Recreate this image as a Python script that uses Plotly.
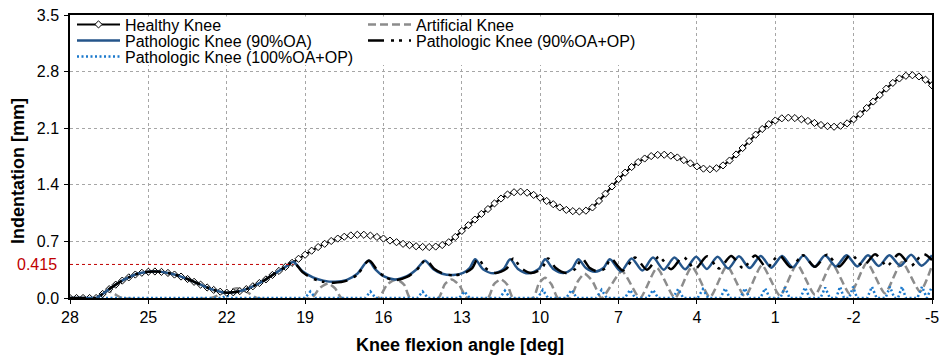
import plotly.graph_objects as go

FONT = "Arial, Liberation Sans, sans-serif"

# ---------------- data ----------------
x_ticks = [28, 25, 22, 19, 16, 13, 10, 7, 4, 1, -2, -5]
x_tick_text = ["28", "25", "22", "19", "16", "13", "10", "7", "4", "1", "-2", "-5"]
y_ticks = [0, 0.7, 1.4, 2.1, 2.8, 3.5]
y_tick_text = ["0.0", "0.7", "1.4", "2.1", "2.8", "3.5"]
ref_level = 0.415
ref_level_end = 19.45

healthy_x = [28, 27.75, 27.5, 27.25, 27, 26.75, 26.5, 26.25, 26, 25.75, 25.5, 25.25, 25,
             24.75, 24.5, 24.25, 24, 23.75, 23.5, 23.25, 23, 22.75, 22.5, 22.25, 22,
             21.75, 21.5, 21.25, 21, 20.75, 20.5, 20.25, 20, 19.75, 19.5,
             19.25, 19, 18.75, 18.5, 18.25, 18, 17.75, 17.5, 17.25, 17,
             16.75, 16.5, 16.25, 16, 15.75, 15.5, 15.25, 15, 14.75, 14.5, 14.25, 14,
             13.75, 13.5, 13.25, 13, 12.75, 12.5, 12.25, 12, 11.75, 11.5, 11.25, 11,
             10.75, 10.5, 10.25, 10, 9.75, 9.5, 9.25, 9, 8.75, 8.5, 8.25, 8,
             7.75, 7.5, 7.25, 7, 6.75, 6.5, 6.25, 6, 5.75, 5.5, 5.25, 5,
             4.75, 4.5, 4.25, 4, 3.75, 3.5, 3.25, 3, 2.75, 2.5, 2.25, 2,
             1.75, 1.5, 1.25, 1, 0.75, 0.5, 0.25, 0, -0.25, -0.5, -0.75, -1,
             -1.25, -1.5, -1.75, -2, -2.25, -2.5, -2.75, -3, -3.25, -3.5, -3.75, -4,
             -4.25, -4.5, -4.75, -5]
healthy_y = [0, 0, 0, 0, 0, 0.05, 0.11, 0.165, 0.215, 0.255, 0.29, 0.312, 0.325,
             0.328, 0.323, 0.31, 0.29, 0.265, 0.235, 0.2, 0.165, 0.13, 0.1, 0.078, 0.066,
             0.07, 0.085, 0.11, 0.145, 0.185, 0.23, 0.285, 0.335, 0.385, 0.435,
             0.485, 0.535, 0.585, 0.63, 0.67, 0.705, 0.735, 0.758, 0.774, 0.782,
             0.782, 0.772, 0.755, 0.735, 0.71, 0.69, 0.67, 0.653, 0.64, 0.632, 0.63, 0.636,
             0.655, 0.69, 0.755, 0.83, 0.9, 0.97, 1.04, 1.1, 1.17, 1.23, 1.28, 1.308,
             1.315, 1.302, 1.275, 1.24, 1.2, 1.16, 1.12, 1.09, 1.074, 1.07, 1.08, 1.12,
             1.2, 1.29, 1.38, 1.47, 1.55, 1.62, 1.68, 1.725, 1.755, 1.77, 1.772, 1.76,
             1.738, 1.705, 1.665, 1.628, 1.6, 1.592, 1.605, 1.64, 1.7, 1.775, 1.855, 1.94,
             2.02, 2.09, 2.15, 2.195, 2.222, 2.23, 2.225, 2.21, 2.19, 2.165, 2.14, 2.125,
             2.118, 2.13, 2.16, 2.21, 2.275, 2.35, 2.43, 2.51, 2.59, 2.66, 2.715, 2.748,
             2.755, 2.74, 2.7, 2.63]

# Pathologic Knee (90%OA): follows the healthy knee until ~19.5 deg, then arches
oa90_x = [19.45, 19.1, 18.7, 18.3, 17.85, 17.4, 17.0, 16.58,
          16.3, 16.0, 15.56, 15.1, 14.75, 14.41,
          14.1, 13.75, 13.33, 12.95, 12.7, 12.49,
          12.2, 11.79, 11.4, 11.15,
          10.85, 10.45, 10.05, 9.81,
          9.5, 9.11, 8.78, 8.54,
          8.25, 7.9, 7.58, 7.33,
          6.91, 6.5, 6.09, 5.68, 5.27, 4.86, 4.45, 4.03, 3.62, 3.21, 2.8, 2.39,
          1.98, 1.56, 1.15, 0.74, 0.33, -0.08, -0.5, -0.91, -1.32, -1.73, -2.14, -2.55,
          -2.96, -3.37, -3.79, -4.2, -4.6, -5.0]
oa90_y = [0.445, 0.33, 0.255, 0.215, 0.2, 0.225, 0.3, 0.46,
          0.35, 0.27, 0.23, 0.27, 0.35, 0.46,
          0.36, 0.3, 0.284, 0.31, 0.37, 0.478,
          0.36, 0.305, 0.36, 0.478,
          0.36, 0.305, 0.36, 0.478,
          0.36, 0.31, 0.36, 0.48,
          0.37, 0.325, 0.37, 0.48,
          0.33, 0.49, 0.34, 0.5, 0.35, 0.5, 0.355, 0.51, 0.36, 0.51, 0.365, 0.515,
          0.37, 0.52, 0.375, 0.52, 0.38, 0.525, 0.385, 0.525, 0.39, 0.53, 0.39, 0.53,
          0.395, 0.53, 0.4, 0.535, 0.4, 0.53]

# Pathologic Knee (90%OA+OP)
oaop90_x = [19.45, 19.1, 18.7, 18.3, 17.9, 17.4, 17.0, 16.55,
            16.25, 15.95, 15.55, 15.1, 14.72, 14.38,
            14.05, 13.7, 13.3, 12.9, 12.6, 12.38,
            12.1, 11.7, 11.3, 11.03,
            10.73, 10.35, 9.95, 9.7,
            9.4, 9.02, 8.65, 8.4,
            8.1, 7.8, 7.5, 7.3,
            6.83, 6.37, 5.91, 5.45, 4.99, 4.53, 4.07, 3.61, 3.15, 2.69, 2.23, 1.77,
            1.32, 0.86, 0.4, -0.06, -0.52, -0.98, -1.44, -1.9, -2.36, -2.82, -3.28, -3.74,
            -4.2, -4.66, -5.0]
oaop90_y = [0.445, 0.32, 0.24, 0.2, 0.19, 0.215, 0.29, 0.465,
            0.35, 0.26, 0.22, 0.26, 0.35, 0.47,
            0.36, 0.3, 0.28, 0.31, 0.37, 0.49,
            0.37, 0.31, 0.36, 0.49,
            0.37, 0.31, 0.36, 0.49,
            0.37, 0.31, 0.36, 0.49,
            0.37, 0.33, 0.37, 0.49,
            0.34, 0.5, 0.35, 0.51, 0.355, 0.51, 0.36, 0.515, 0.365, 0.52, 0.37, 0.525,
            0.375, 0.53, 0.38, 0.53, 0.385, 0.535, 0.39, 0.54, 0.395, 0.54, 0.4, 0.545,
            0.4, 0.545, 0.47]

# Artificial Knee
art_x = [28, 27.0, 26.75, 26.55, 26.3, 26.0,
         22.6, 22.1, 21.6, 21.2, 20.85,
         18.75, 18.45, 18.12, 17.85, 17.6,
         16.2, 15.85, 15.49, 15.2, 14.98,
         13.9, 13.65, 13.39, 13.1, 12.8,
         12.0, 11.77, 11.5, 11.25, 11.04,
         10.27, 10.05, 9.81, 9.57, 9.32,
         8.86, 8.55, 8.3, 8.0, 7.65,
         6.87, 6.18, 5.53, 4.84, 4.19, 3.5, 2.85, 2.16, 1.51, 0.82,
         0.17, -0.52, -1.17, -1.86, -2.51, -3.2, -3.85, -4.54, -5.0]
art_y = [0, 0, 0.06, 0.09, 0.05, 0,
         0, 0.07, 0.12, 0.07, 0,
         0, 0.12, 0.18, 0.12, 0,
         0, 0.17, 0.23, 0.16, 0,
         0, 0.17, 0.23, 0.16, 0,
         0, 0.17, 0.23, 0.16, 0,
         0, 0.18, 0.25, 0.17, 0,
         0, 0.21, 0.3, 0.21, 0,
         0.33, 0.0, 0.37, 0.0, 0.385, 0.01, 0.395, 0.02, 0.405, 0.03,
         0.415, 0.04, 0.425, 0.05, 0.435, 0.06, 0.445, 0.08, 0.4]

# Pathologic Knee (100%OA+OP)
oaop100_x = [28, 22.2, 22.0, 21.8, 19.0, 18.8, 18.6, 16.7, 16.5, 16.3, 14.7, 14.5, 14.3,
             13.1, 12.9, 12.7, 11.55, 11.35, 11.15, 10.1, 9.9, 9.7, 9.0, 8.8, 8.6,
             7.85, 7.65, 7.45, 6.76, 6.56, 6.36, 5.88, 5.68, 5.48, 4.92, 4.72, 4.52,
             3.97, 3.77, 3.57, 3.1, 2.92, 2.74, 2.34, 2.16, 1.98, 1.57, 1.39, 1.21,
             0.81, 0.63, 0.45, 0.04, -0.14, -0.32, -0.73, -0.91, -1.09, -1.33, -1.48, -1.63,
             -1.83, -1.98, -2.13, -2.52, -2.7, -2.88, -3.22, -3.39, -3.56, -3.7, -3.85, -4.0,
             -4.44, -4.62, -4.8, -4.9, -5.0]
oaop100_y = [0, 0, 0.03, 0, 0, 0.08, 0, 0, 0.08, 0, 0, 0.08, 0,
             0, 0.08, 0, 0, 0.09, 0, 0, 0.1, 0, 0, 0.1, 0,
             0, 0.1, 0, 0, 0.1, 0, 0, 0.1, 0, 0, 0.11, 0,
             0, 0.11, 0, 0, 0.12, 0, 0, 0.12, 0, 0, 0.12, 0,
             0, 0.13, 0, 0, 0.13, 0, 0, 0.13, 0, 0, 0.14, 0,
             0, 0.14, 0, 0, 0.14, 0, 0, 0.14, 0, 0, 0.14, 0,
             0, 0.14, 0, 0.07, 0.14]

names = ["Healthy Knee", "Artificial Knee", "Pathologic Knee (90%OA)",
         "Pathologic Knee (90%OA+OP)", "Pathologic Knee (100%OA+OP)"]

# curves that share the healthy knee branch before ~19.5 deg
n_shared = healthy_x.index(19.5)
oa90_full_x = healthy_x[:n_shared] + oa90_x
oa90_full_y = healthy_y[:n_shared] + oa90_y
oaop90_full_x = healthy_x[:n_shared] + oaop90_x
oaop90_full_y = healthy_y[:n_shared] + oaop90_y

# ---------------- figure ----------------
fig = go.Figure()

fig.add_trace(go.Scatter(
    x=art_x, y=art_y, mode="lines", name=names[1], legend="legend2", showlegend=True,
    line=dict(color="#8c8c8c", width=2.5, dash="8px,4px", shape="spline", smoothing=0.6)))

fig.add_trace(go.Scatter(
    x=oaop100_x, y=oaop100_y, mode="lines", name=names[4], legend="legend5", showlegend=True,
    line=dict(color="#1a78cc", width=2.5, dash="2px,2.5px")))

fig.add_trace(go.Scatter(
    x=healthy_x, y=healthy_y, mode="lines+markers", name=names[0], legend="legend", showlegend=True,
    line=dict(color="black", width=2, shape="spline", smoothing=0.6),
    marker=dict(symbol="diamond", size=5.5, color="white", line=dict(color="black", width=1))))

fig.add_trace(go.Scatter(
    x=oa90_full_x, y=oa90_full_y, mode="lines", name=names[2], legend="legend3", showlegend=True,
    line=dict(color="#24558a", width=2.5, shape="spline", smoothing=0.8)))

fig.add_trace(go.Scatter(
    x=oaop90_full_x, y=oaop90_full_y, mode="lines", name=names[3], legend="legend4", showlegend=True,
    line=dict(color="black", width=2.5, dash="16px,7px,3px,5px,3px,7px",
              shape="spline", smoothing=0.8)))

# reference level line (red dotted) + red label
fig.add_shape(type="line", xref="x", yref="y", x0=28, x1=ref_level_end,
              y0=ref_level, y1=ref_level, line=dict(color="#c00000", width=1, dash="dot"))
fig.add_annotation(xref="paper", yref="y", x=0, y=ref_level, xanchor="right", yanchor="middle",
                   xshift=-11, text="0.415", showarrow=False,
                   font=dict(family=FONT, size=16, color="#c00000"))

# white box behind legend (hides grid)
fig.add_shape(type="rect", xref="paper", yref="paper", x0=0.0015, x1=0.661, y0=0.823, y1=0.995,
              fillcolor="white", line=dict(width=0), layer="above")

# axis titles
fig.add_annotation(xref="paper", yref="paper", x=(460 - 70) / 862, y=(298 - 345) / 283,
                   xanchor="center", yanchor="middle", showarrow=False,
                   text="<b>Knee flexion angle [deg]</b>", font=dict(family=FONT, size=18, color="black"))
fig.add_annotation(xref="paper", yref="paper", x=(18 - 70) / 862, y=(298 - 171) / 283,
                   xanchor="center", yanchor="middle", showarrow=False, textangle=-90,
                   text="<b>Indentation [mm]</b>", font=dict(family=FONT, size=18, color="black"))

def leg(xp, yp):
    return dict(xref="container", yref="container",
                x=xp / 946, y=1 - (yp + 0.5) / 361, xanchor="left", yanchor="middle",
                bgcolor="rgba(0,0,0,0)", borderwidth=0, itemwidth=43, visible=True,
                font=dict(family=FONT, size=16, color="black"))

axis_common = dict(showgrid=True, gridcolor="#a6a6a6", griddash="dot", gridwidth=1,
                   showline=True, linecolor="black", linewidth=1.5, mirror=True,
                   ticks="outside", ticklen=4, tickcolor="black", zeroline=False,
                   tickfont=dict(family=FONT, size=16, color="black"), layer="below traces")

fig.update_layout(
    width=946, height=361,
    margin=dict(l=70, r=14, t=15, b=63, autoexpand=False),
    paper_bgcolor="white", plot_bgcolor="white",
    showlegend=True,
    font=dict(family=FONT, size=16, color="black"),
    xaxis=dict(range=[28, -5], tickvals=x_ticks, ticktext=x_tick_text,
               ticklabelstandoff=0, automargin=False, **axis_common),
    yaxis=dict(range=[0, 3.5], tickvals=y_ticks, ticktext=y_tick_text,
               ticklabelstandoff=2, automargin=False, **axis_common),
    legend=leg(72, 24),
    legend3=leg(72, 40),
    legend5=leg(72, 56),
    legend2=leg(363, 24),
    legend4=leg(363, 40),
)

fig.write_html("out.html")
